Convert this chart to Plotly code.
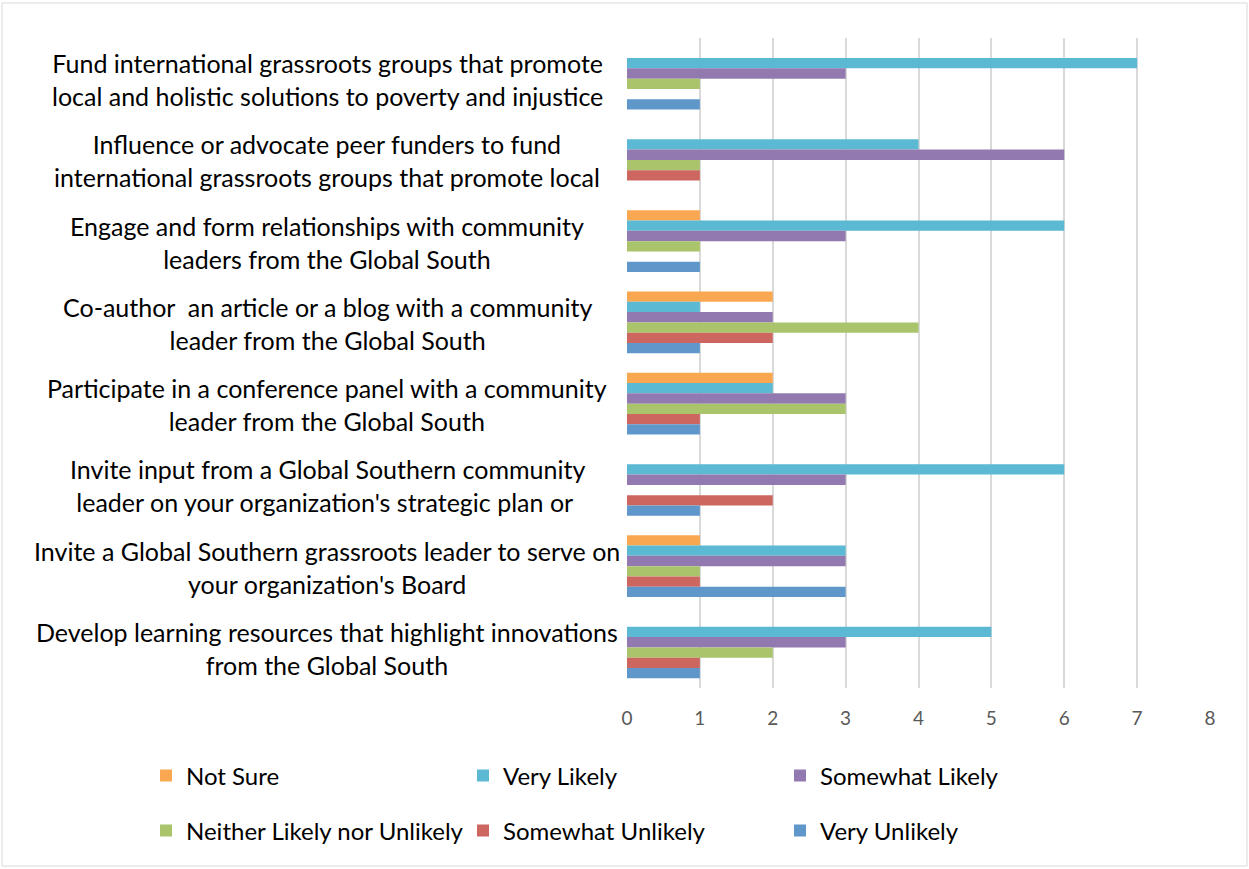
import plotly.graph_objects as go

categories = [
    "Fund international grassroots groups that promote<br>local and holistic solutions to poverty and injustice",
    "Influence or advocate peer funders to fund<br>international grassroots groups that promote local",
    "Engage and form relationships with community<br>leaders from the Global South",
    "Co-author\u00a0 an article or a blog with a community<br>leader from the Global South",
    "Participate in a conference panel with a community<br>leader from the Global South",
    "Invite input from a Global Southern community<br>leader on your organization's strategic plan or\u00a0",
    "Invite a Global Southern grassroots leader to serve on<br>your organization's Board",
    "Develop learning resources that highlight innovations<br>from the Global South",
]
series_names = ["Not Sure", "Very Likely", "Somewhat Likely",
                "Neither Likely nor Unlikely", "Somewhat Unlikely", "Very Unlikely"]
not_sure = [0, 0, 1, 2, 2, 0, 1, 0]
very_likely = [7, 4, 6, 1, 2, 6, 3, 5]
somewhat_likely = [3, 6, 3, 2, 3, 3, 3, 3]
neither = [1, 1, 1, 4, 3, 0, 1, 2]
somewhat_unlikely = [0, 1, 0, 2, 1, 2, 1, 1]
very_unlikely = [1, 0, 1, 1, 1, 1, 3, 1]
colors = ["#F9A750", "#5BB9D3", "#927AB1", "#A9C46A", "#CE6660", "#6097CB"]
x_ticks = [0, 1, 2, 3, 4, 5, 6, 7, 8]

values = [not_sure, very_likely, somewhat_likely, neither, somewhat_unlikely, very_unlikely]

W, H = 1249, 869
L, R, T, B = 627, 39, 38, 181
pw = W - L - R
ph = H - T - B

FONT = "Lato"

fig = go.Figure()
for i, (name, vals, col) in enumerate(zip(series_names, values, colors)):
    fig.add_trace(go.Bar(
        y=list(range(len(categories))), x=vals, name=name, orientation="h",
        marker=dict(color=col, line=dict(width=0)),
        legend="legend" if i < 3 else "legend2",
    ))

annotations = []
for i, c in enumerate(categories):
    annotations.append(dict(
        x=(327 - L) / pw, xref="paper", y=i, yref="y", text=c,
        showarrow=False, xanchor="center", yanchor="middle", align="center",
        yshift=-1, font=dict(family=FONT, size=25, color="#000000"),
    ))

leg_common = dict(
    orientation="h", entrywidth=272, entrywidthmode="pixels",
    xanchor="left", yanchor="middle", bgcolor="rgba(0,0,0,0)",
    font=dict(family=FONT, size=24, color="#000000"),
    itemclick=False, traceorder="normal",
)
fig.update_layout(
    width=W, height=H,
    margin=dict(l=L, r=R, t=T, b=B),
    paper_bgcolor="white", plot_bgcolor="white",
    barmode="group", bargap=0.24, bargroupgap=0,
    showlegend=True,
    legend=dict(x=(146 - L) / pw, y=(ph - (776 - T)) / ph, **leg_common),
    legend2=dict(x=(146 - L) / pw, y=(ph - (831 - T)) / ph, **leg_common),
    xaxis=dict(range=[0, 8], tickvals=x_ticks, showgrid=True, gridcolor="#D9D9D9",
               gridwidth=2, zeroline=False, showline=False,
               tickfont=dict(family=FONT, size=19, color="#595959"), ticks="",
               ticklabelstandoff=17),
    yaxis=dict(autorange="reversed", showticklabels=False, showgrid=False,
               zeroline=False, showline=False, ticks=""),
    annotations=annotations,
    shapes=[dict(type="rect", xref="paper", yref="paper",
                 x0=(2 - L) / pw, x1=(1247 - L) / pw,
                 y0=(ph - (866 - T)) / ph, y1=(ph - (3 - T)) / ph,
                 line=dict(color="#D9D9D9", width=1), layer="below")],
)
fig.write_html("out.html")
